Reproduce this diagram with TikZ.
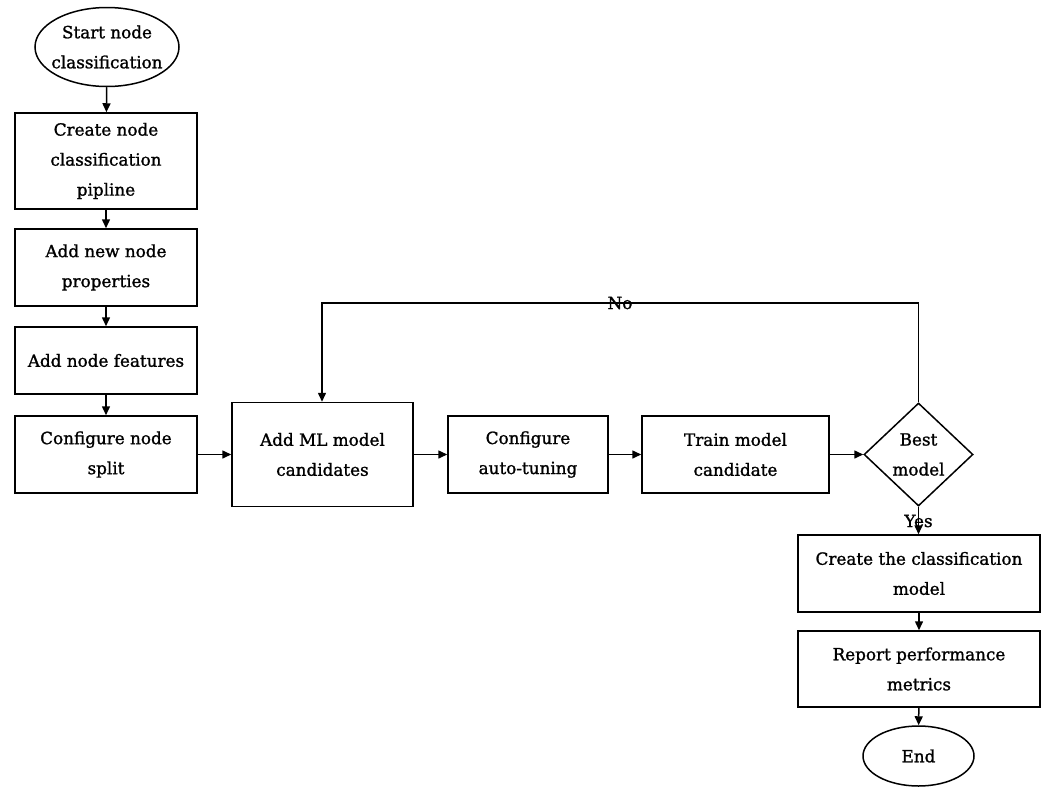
\documentclass[tikz,border=0pt]{standalone}
\usepackage{fontspec}
\setmainfont[FakeBold=1.3]{DejaVu Serif}
\usetikzlibrary{shapes.geometric,arrows.meta}
\begin{document}
\begin{tikzpicture}[x=1pt,y=-1pt,
  every node/.style={font=\fontsize{16.8}{30}\selectfont, align=center},
  box/.style={draw, line width=1.5pt, inner sep=0pt},
  oval/.style={draw, ellipse, line width=1.5pt, inner sep=-20pt},
  dec/.style={draw, diamond, line width=1.5pt, inner sep=0pt, aspect=1.06},
  conn/.style={line width=1.5pt, -{Triangle[length=9pt,width=8pt]}},
  lbl/.style={inner sep=0pt}]
\useasboundingbox (0,0) rectangle (1047,787);
\node[oval, minimum width=144pt, minimum height=79pt] (start) at (107,47) {Start node\\classification};
\node[box, minimum width=182pt, minimum height=96pt] (b1) at (106,161) {Create node\\classification\\pipline};
\node[box, minimum width=182pt, minimum height=77pt] (b2) at (106,267.5) {Add new node\\properties};
\node[box, minimum width=182pt, minimum height=67pt] (b3) at (106,360.5) {Add node features};
\node[box, minimum width=182pt, minimum height=77pt] (b4) at (106,454.5) {Configure node\\split};
\node[box, minimum width=181pt, minimum height=104pt] (b5) at (322.5,454.5) {Add ML model\\candidates};
\node[box, minimum width=160pt, minimum height=77pt] (b6) at (528,454.5) {Configure\\auto-tuning};
\node[box, minimum width=187pt, minimum height=77pt] (b7) at (735.5,454.5) {Train model\\candidate};
\node[dec, minimum width=109pt, minimum height=103pt] (d) at (918.5,454.5) {Best\\model};
\node[box, minimum width=242pt, minimum height=77pt] (b8) at (919,573.5) {Create the classification\\model};
\node[box, minimum width=242pt, minimum height=76pt] (b9) at (919,669) {Report performance\\metrics};
\node[oval, minimum width=111pt, minimum height=60pt] (end) at (918.5,756) {End};
\coordinate (c1) at (918.5,303);
\coordinate (c2) at (322,303);
\draw[conn] (start) -- (b1);
\draw[conn] (b1) -- (b2);
\draw[conn] (b2) -- (b3);
\draw[conn] (b3) -- (b4);
\draw[conn] (b4) -- (b4 -| b5.west);
\draw[conn] (b5) -- (b6);
\draw[conn] (b6) -- (b7);
\draw[conn] (b7) -- (d);
\draw[conn] (d.north) -- (c1) -- (c2) -- (b5.north -| c2);
\draw[conn] (d.south) -- (b8.north -| d.south);
\draw[conn] (b8) -- (b9);
\draw[conn] (b9) -- (end);
\node[lbl] (no) at (620,303) {No};
\node[lbl] (yes) at (918.5,521) {Yes};
\end{tikzpicture}
\end{document}
